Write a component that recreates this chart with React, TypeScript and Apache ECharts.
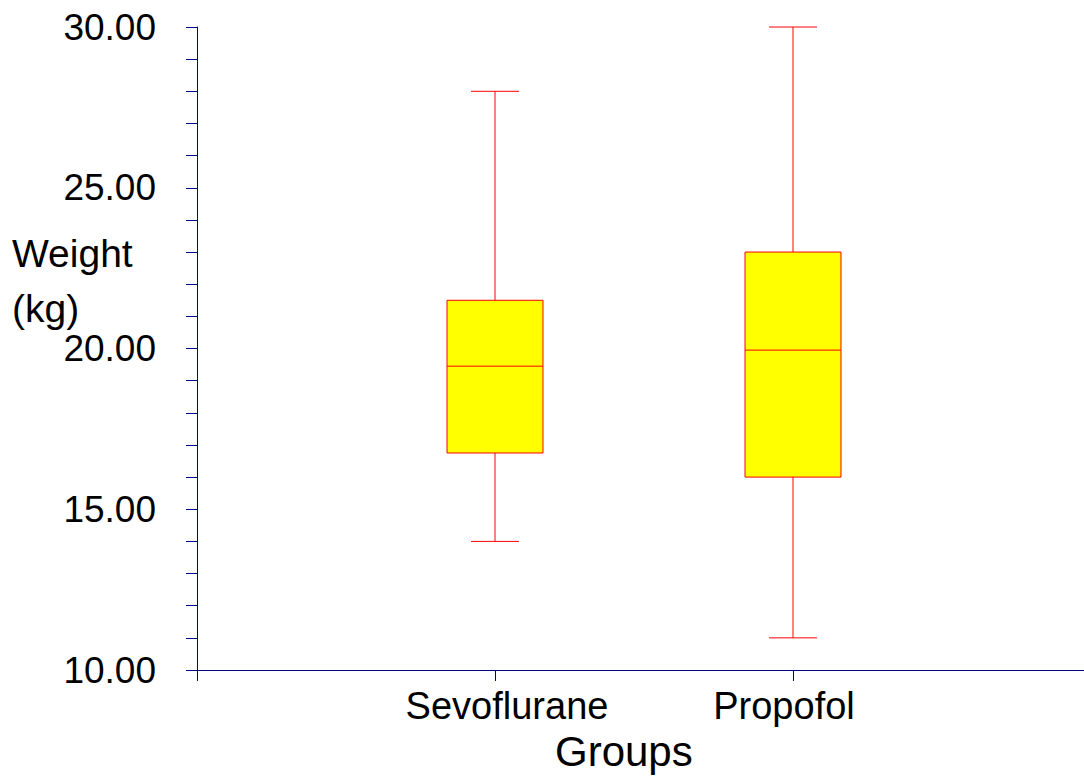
import React, { useEffect, useRef } from "react";
import * as echarts from "echarts";

const categories = ["Sevoflurane", "Propofol"];
const minValues = [14.0, 11.0];
const q1Values = [16.75, 16.0];
const medianValues = [19.45, 19.95];
const q3Values = [21.5, 23.0];
const maxValues = [28.0, 30.0];
const yTickLabels = ["10.00", "15.00", "20.00", "25.00", "30.00"];

const AXIS_COLOR = "#00008B";
const FONT = "'Liberation Sans', Arial, sans-serif";

export default function App() {
  const ref = useRef<HTMLDivElement>(null);
  useEffect(() => {
    if (!ref.current) return;
    const chart = echarts.init(ref.current, null, { renderer: "svg" });
    const data = categories.map((_, i) => [
      i + 1,
      minValues[i],
      q1Values[i],
      medianValues[i],
      q3Values[i],
      maxValues[i],
    ]);
    const option: any = {
      animation: false,
      backgroundColor: "#ffffff",
      grid: { left: 197, top: 27, width: 894, bottom: 107, outerBoundsMode: "none", containLabel: false },
      xAxis: {
        type: "value",
        min: 0,
        max: 3,
        interval: 1,
        axisLine: { show: true, lineStyle: { color: AXIS_COLOR, width: 1 } },
        axisTick: { show: true, length: 11, lineStyle: { color: AXIS_COLOR } },
        splitLine: { show: false },
        axisLabel: {
          margin: 17,
          color: "#000",
          fontFamily: FONT,
          fontSize: 38,
          formatter: (v: number) => {
            if (v === 1) return `{s|${categories[0]}}`;
            if (v === 2) return `{p|${categories[1]}}`;
            return "";
          },
          rich: {
            s: { fontFamily: FONT, fontSize: 38, color: "#000", padding: [0, 0, 0, 24] },
            p: { fontFamily: FONT, fontSize: 38, color: "#000", padding: [0, 18, 0, 0] },
          },
        },
      },
      yAxis: {
        type: "value",
        min: 10,
        max: 30,
        interval: 1,
        axisLine: { show: true, lineStyle: { color: AXIS_COLOR, width: 1 } },
        axisTick: { show: true, length: 11, lineStyle: { color: AXIS_COLOR } },
        splitLine: { show: false },
        axisLabel: {
          margin: 41,
          color: "#000",
          fontFamily: FONT,
          fontSize: 37,
          formatter: (v: number) => {
            const s = v.toFixed(2);
            return yTickLabels.includes(s) ? s : "";
          },
        },
      },
      graphic: [
        {
          type: "text",
          left: 12,
          top: 226,
          style: {
            text: "Weight\n(kg)",
            font: `39px ${FONT}`,
            fill: "#000",
            lineHeight: 55,
          },
        },
        {
          type: "text",
          left: 555,
          top: 730,
          style: {
            text: "Groups",
            font: `42px ${FONT}`,
            fill: "#000",
          },
        },
      ],
      series: [
        {
          type: "custom",
          data,
          clip: false,
          renderItem: (params: any, api: any) => {
            const x = api.value(0);
            const unit = api.size([1, 0])[0];
            const boxW = unit * 0.322;
            const capW = unit * 0.161;
            const pMin = api.coord([x, api.value(1)]);
            const pQ1 = api.coord([x, api.value(2)]);
            const pMed = api.coord([x, api.value(3)]);
            const pQ3 = api.coord([x, api.value(4)]);
            const pMax = api.coord([x, api.value(5)]);
            const cx = pMed[0];
            const stroke = { stroke: "#FF0000", lineWidth: 1 };
            return {
              type: "group",
              children: [
                { type: "line", shape: { x1: cx, y1: pMax[1], x2: cx, y2: pQ3[1] }, style: stroke },
                { type: "line", shape: { x1: cx, y1: pQ1[1], x2: cx, y2: pMin[1] }, style: stroke },
                { type: "line", shape: { x1: cx - capW / 2, y1: pMax[1], x2: cx + capW / 2, y2: pMax[1] }, style: stroke },
                { type: "line", shape: { x1: cx - capW / 2, y1: pMin[1], x2: cx + capW / 2, y2: pMin[1] }, style: stroke },
                {
                  type: "rect",
                  shape: { x: cx - boxW / 2, y: pQ3[1], width: boxW, height: pQ1[1] - pQ3[1] },
                  style: { fill: "#FFFF00", stroke: "#FF0000", lineWidth: 1 },
                },
                { type: "line", shape: { x1: cx - boxW / 2, y1: pMed[1], x2: cx + boxW / 2, y2: pMed[1] }, style: stroke },
              ],
            };
          },
        },
      ],
    };
    chart.setOption(option);
    return () => chart.dispose();
  }, []);
  return (
    <div
      ref={ref}
      style={{ position: "fixed", left: 0, top: 0, width: 1084, height: 777, background: "#fff" }}
    />
  );
}
